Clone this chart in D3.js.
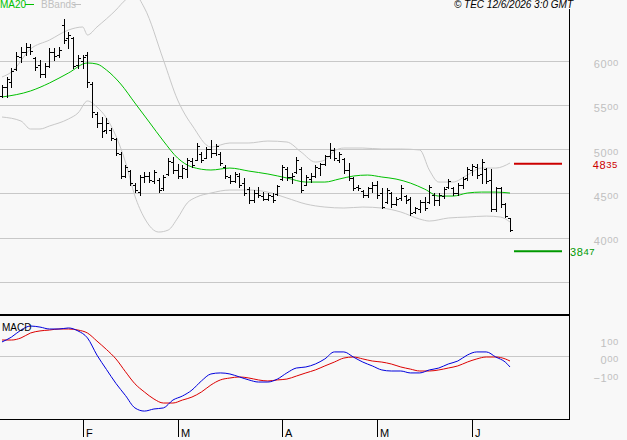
<!DOCTYPE html>
<html>
<head>
<meta charset="utf-8">
<script src="https://cdn.jsdelivr.net/npm/d3@7"></script>
<style>
  body { margin: 0; background: #f8f8f8; }
  svg { display: block; font-family: Arial, "Liberation Sans", sans-serif; }
</style>
</head>
<body>
<div id="chart"></div>
<script>
// daily bars, oldest first (early Jan -> mid June)
var openP = [5600,5700,5760,5900,6040,6100,6150,6030,5950,5850,
  5940,6100,6060,6400,6250,6250,5950,6000,6060,5740,
  5400,5300,5220,5220,5110,4950,4700,4750,4600,4520,
  4680,4700,4640,4650,4560,4720,4860,4760,4700,4780,
  4870,4880,4940,4900,5000,4960,4950,4800,4690,4640,
  4700,4620,4550,4420,4500,4470,4440,4470,4490,4660,
  4780,4680,4740,4780,4600,4660,4700,4790,4830,4920,
  4990,4880,4890,4760,4670,4570,4530,4480,4560,4600,
  4500,4400,4500,4380,4450,4470,4440,4290,4320,4400,
  4400,4480,4420,4470,4570,4560,4500,4600,4670,4760,
  4800,4720,4780,4650,4320,4560,4380,4220];
var highP = [5723,5814,5915,6096,6152,6198,6186,6040,6006,5972,
  6141,6141,6152,6468,6322,6265,6062,6062,6096,5757,
  5419,5362,5351,5238,5125,4967,4820,4764,4617,4707,
  4741,4741,4764,4674,4707,4899,4911,4832,4820,4899,
  4899,5069,4967,5023,5102,5057,4967,4820,4707,4741,
  4730,4674,4572,4538,4572,4515,4504,4504,4594,4820,
  4798,4730,4911,4798,4707,4730,4820,4843,4933,5069,
  5012,4967,4899,4843,4685,4594,4538,4572,4628,4640,
  4561,4561,4515,4459,4594,4482,4459,4346,4425,4459,
  4594,4504,4504,4572,4662,4572,4617,4685,4798,4832,
  4832,4888,4786,4775,4572,4572,4391,4222];
var lowP = [5588,5588,5701,5893,5983,6062,6073,5893,5814,5814,
  5927,6006,6040,6198,6141,5915,5915,5915,5701,5362,
  5249,5136,5181,5102,4933,4674,4685,4594,4515,4482,
  4628,4628,4617,4515,4538,4707,4730,4674,4674,4685,
  4798,4877,4854,4899,4911,4933,4820,4674,4617,4628,
  4572,4482,4391,4402,4459,4425,4425,4402,4482,4651,
  4651,4617,4730,4515,4594,4628,4685,4707,4820,4899,
  4877,4854,4730,4651,4538,4538,4459,4459,4515,4448,
  4335,4391,4346,4369,4425,4391,4256,4278,4290,4312,
  4391,4369,4369,4448,4561,4482,4482,4561,4651,4707,
  4674,4617,4617,4301,4301,4346,4233,4075];
var closeP = [5700,5790,5880,6050,6100,6150,6110,5930,5850,5940,
  6100,6050,6120,6230,6290,5940,6030,6040,5760,5420,
  5300,5200,5300,5130,4960,4700,4800,4620,4540,4690,
  4700,4650,4740,4540,4690,4870,4760,4700,4790,4880,
  4820,5040,4880,5000,4960,5040,4840,4700,4640,4720,
  4600,4500,4420,4500,4480,4440,4480,4430,4580,4800,
  4680,4700,4880,4540,4680,4700,4800,4830,4920,4990,
  4900,4950,4760,4670,4560,4560,4480,4560,4600,4480,
  4350,4540,4380,4440,4560,4420,4280,4330,4400,4340,
  4570,4420,4480,4550,4640,4500,4600,4660,4780,4810,
  4710,4860,4640,4320,4560,4380,4250,4090];

// MA20 + bollinger bands, read at some bar positions
var maIdx = [0,6,10,14,18,20,22,25,28,31,34,37,40,44,48,52,56,60,64,68,71,74,77,80,83,86,89,92,95,98,101,104,107];
var ma20 = [5588,5656,5746,5859,5972,5960,5893,5735,5520,5306,5091,4899,4798,4764,4786,4752,4719,4674,4628,4628,4662,4696,4707,4685,4662,4617,4549,4470,4470,4504,4515,4515,4504];
var upIdx = [0,2,6,10,14,17,18,20,24,26,28,30,34,37,39,40,44,48,52,56,60,63,66,68,70,72,76,80,84,88,90,92,95,98,101,104,107];
var bandUp = [5814,5870,6130,6231,6344,6378,6288,6378,6570,6683,6739,6593,6006,5554,5351,5272,5023,5069,5069,5091,5080,4967,4854,4877,4978,5012,5012,5001,5001,4990,4764,4628,4628,4707,4786,4786,4843];
var loIdx = [0,4,6,8,10,14,16,18,20,22,24,26,28,30,33,35,37,39,41,44,48,52,56,60,64,68,72,76,80,84,88,90,94,98,102,105,107];
var bandLo = [5362,5317,5227,5227,5261,5340,5407,5543,5475,5351,5148,4854,4470,4222,4064,4086,4222,4391,4459,4504,4538,4538,4515,4448,4380,4346,4335,4346,4335,4290,4210,4188,4222,4233,4244,4233,4177];

// MACD panel
var macdIdx = [0,2,4,6,8,10,12,14,16,18,20,22,24,26,28,30,32,34,36,38,40,42,44,46,48,50,52,54,56,58,60,62,64,66,68,70,72,74,76,78,80,82,84,86,88,90,92,94,96,98,100,102,104,106,107];
var macdLine = [82,110,150,173,167,156,156,162,145,105,7,-75,-155,-224,-295,-313,-301,-295,-250,-227,-193,-141,-101,-95,-101,-118,-135,-147,-147,-130,-95,-67,-61,-44,-15,25,25,-4,-33,-55,-78,-84,-84,-95,-95,-78,-67,-44,-27,7,25,25,-4,-33,-61];
var signalLine = [93,93,105,133,145,150,156,156,150,133,87,39,-15,-88,-157,-204,-244,-267,-267,-250,-233,-204,-164,-135,-124,-118,-124,-135,-141,-135,-130,-113,-95,-78,-55,-33,-10,-4,-15,-27,-33,-44,-61,-73,-84,-84,-78,-67,-55,-33,-15,-4,-4,-15,-27];

var priceGrid = [6000, 5500, 5000, 4500, 4000, 3500];
var priceLabels = [6000, 5500, 5000, 4500, 4000];
var macdLabels = [100, 0, -100];
var resistance = 4835;
var support = 3847;
var monthIdx = [17, 37, 59, 79, 99];
var monthNames = ['F', 'M', 'A', 'M', 'J'];

var w = 627, h = 440;
var axisX = 569;

var svg = d3.select('#chart')
  .append('svg')
    .attr('width', w)
    .attr('height', h);

svg.append('rect')
  .attr('width', w)
  .attr('height', h)
  .attr('fill', '#f8f8f8');

// scales
var x = d3.scaleLinear()
  .domain([0, openP.length - 1])
  .range([2, 510]);

var y = d3.scaleLinear()
  .domain([4000, 6000])
  .range([237.7, 60.5]);

var yM = d3.scaleLinear()
  .domain([-100, 100])
  .range([373.8, 338.8]);

function px(v) { return Math.round(v) + 0.5; }

// grid lines
svg.selectAll('.grid')
  .data(priceGrid)
  .enter()
  .append('line')
    .attr('class', 'grid')
    .attr('x1', 0)
    .attr('x2', axisX)
    .attr('y1', function(d) { return px(y(d)); })
    .attr('y2', function(d) { return px(y(d)); })
    .attr('stroke', '#c8c8c8');

svg.append('line')
  .attr('x1', 0)
  .attr('x2', axisX)
  .attr('y1', px(yM(0)))
  .attr('y2', px(yM(0)))
  .attr('stroke', '#c8c8c8');

// bollinger bands + MA20
var smooth = d3.curveMonotoneX;

function idxLine(idx, sc) {
  return d3.line()
    .x(function(d, i) { return x(idx[i]); })
    .y(function(d) { return sc(d); })
    .curve(smooth);
}

svg.append('path')
  .datum(bandUp)
  .attr('d', idxLine(upIdx, y))
  .attr('fill', 'none')
  .attr('stroke', '#c8c8c8');

svg.append('path')
  .datum(bandLo)
  .attr('d', idxLine(loIdx, y))
  .attr('fill', 'none')
  .attr('stroke', '#c8c8c8');

svg.append('path')
  .datum(ma20)
  .attr('d', idxLine(maIdx, y))
  .attr('fill', 'none')
  .attr('stroke', '#00c000');

// OHLC bars
var bars = svg.selectAll('.bar')
  .data(openP)
  .enter()
  .append('g')
    .attr('class', 'bar')
    .attr('stroke', '#000')
    .attr('shape-rendering', 'crispEdges');

bars.append('line')
  .attr('x1', function(d, i) { return px(x(i)); })
  .attr('x2', function(d, i) { return px(x(i)); })
  .attr('y1', function(d, i) { return Math.round(y(highP[i])); })
  .attr('y2', function(d, i) { return Math.round(y(lowP[i])) + 1; });

bars.append('line')
  .attr('x1', function(d, i) { return Math.round(x(i)) - 2; })
  .attr('x2', function(d, i) { return Math.round(x(i)); })
  .attr('y1', function(d) { return px(y(d)); })
  .attr('y2', function(d) { return px(y(d)); });

bars.append('line')
  .attr('x1', function(d, i) { return Math.round(x(i)) + 1; })
  .attr('x2', function(d, i) { return Math.round(x(i)) + 3; })
  .attr('y1', function(d, i) { return px(y(closeP[i])); })
  .attr('y2', function(d, i) { return px(y(closeP[i])); });

// support / resistance
svg.append('line')
  .attr('x1', 514).attr('x2', 562)
  .attr('y1', y(resistance)).attr('y2', y(resistance))
  .attr('stroke', '#cc0000')
  .attr('stroke-width', 2);

svg.append('line')
  .attr('x1', 514).attr('x2', 562)
  .attr('y1', y(support)).attr('y2', y(support))
  .attr('stroke', '#009900')
  .attr('stroke-width', 2);

// MACD lines
svg.append('path')
  .datum(signalLine)
  .attr('d', idxLine(macdIdx, yM))
  .attr('fill', 'none')
  .attr('stroke', '#dd0000');

svg.append('path')
  .datum(macdLine)
  .attr('d', idxLine(macdIdx, yM))
  .attr('fill', 'none')
  .attr('stroke', '#0000dd');

// frame
svg.append('line')
  .attr('x1', 0).attr('x2', axisX)
  .attr('y1', 315).attr('y2', 315)
  .attr('stroke', '#000')
  .attr('stroke-width', 2);

svg.append('line')
  .attr('x1', 0).attr('x2', axisX + 0.5)
  .attr('y1', 419.5).attr('y2', 419.5)
  .attr('stroke', '#000');

svg.append('line')
  .attr('x1', axisX + 0.5).attr('x2', axisX + 0.5)
  .attr('y1', 9).attr('y2', 420)
  .attr('stroke', '#000');

// month ticks
svg.selectAll('.mtick')
  .data(monthIdx)
  .enter()
  .append('line')
    .attr('class', 'mtick')
    .attr('x1', function(d) { return px(x(d)); })
    .attr('x2', function(d) { return px(x(d)); })
    .attr('y1', 420)
    .attr('y2', 437)
    .attr('stroke', '#000');

svg.selectAll('.mlabel')
  .data(monthIdx)
  .enter()
  .append('text')
    .attr('class', 'mlabel')
    .attr('x', function(d) { return Math.round(x(d)) + 3; })
    .attr('y', 437)
    .attr('font-size', 11)
    .text(function(d, i) { return monthNames[i]; });

// right axis labels: big leading digits, small trailing two
function splitLabel(sel, str, big, small, raise) {
  sel.attr('letter-spacing', 0.6);
  sel.append('tspan').attr('font-size', big).text(str.slice(0, -2));
  sel.append('tspan').attr('font-size', small).attr('dy', -raise).text(str.slice(-2));
}

priceLabels.forEach(function(v) {
  var t = svg.append('text')
    .attr('x', 619)
    .attr('y', y(v) + 7.5)
    .attr('text-anchor', 'end')
    .attr('fill', '#c0c0c0');
  splitLabel(t, String(v), 11, 9.5, 2);
});

macdLabels.forEach(function(v) {
  var t = svg.append('text')
    .attr('x', 619)
    .attr('y', yM(v) + 8)
    .attr('text-anchor', 'end')
    .attr('fill', '#c0c0c0');
  splitLabel(t, d3.format('03d')(v), 11, 9.5, 2);
});

var rt = svg.append('text')
  .attr('x', 618)
  .attr('y', y(resistance) + 5)
  .attr('text-anchor', 'end')
  .attr('fill', '#cc0000');
splitLabel(rt, String(resistance), 11, 9.5, 1);

var st = svg.append('text')
  .attr('x', 570)
  .attr('y', y(support) + 4.5)
  .attr('fill', '#009900');
splitLabel(st, String(support), 11, 9.5, 1);

// legend + titles
svg.append('text')
  .attr('x', 0).attr('y', 8)
  .attr('font-size', 10)
  .attr('fill', '#00c000')
  .text('MA20');
svg.append('line')
  .attr('x1', 25).attr('x2', 34)
  .attr('y1', 4.5).attr('y2', 4.5)
  .attr('stroke', '#00c000');

svg.append('text')
  .attr('x', 41).attr('y', 8)
  .attr('font-size', 10)
  .attr('fill', '#c0c0c0')
  .text('BBands');
svg.append('line')
  .attr('x1', 73).attr('x2', 81)
  .attr('y1', 4.5).attr('y2', 4.5)
  .attr('stroke', '#c0c0c0');

svg.append('text')
  .attr('x', 573).attr('y', 8)
  .attr('text-anchor', 'end')
  .attr('font-size', 10)
  .attr('font-style', 'italic')
  .text('\u00a9 TEC 12/6/2026 3:0 GMT');

svg.append('text')
  .attr('x', 2).attr('y', 331)
  .attr('font-size', 10)
  .text('MACD');
</script>
</body>
</html>
